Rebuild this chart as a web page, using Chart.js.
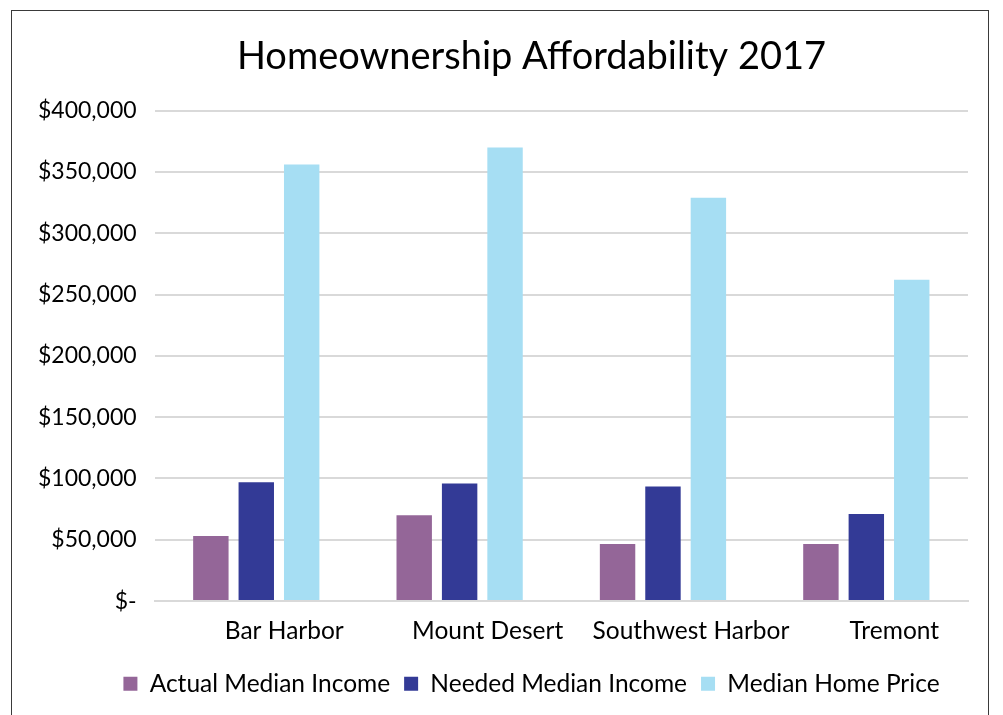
<!DOCTYPE html>
<html>
<head>
<meta charset="utf-8">
<script src="https://cdn.jsdelivr.net/npm/chart.js@4.4.1/dist/chart.umd.min.js"></script>
<style>
  html, body { margin: 0; padding: 0; background: #fff; overflow: hidden; }
  #wrap { position: absolute; left: 0; top: 0; width: 1003px; height: 715px; }
  #frame { position: absolute; left: 11px; top: 10px; width: 976px; height: 720px; border: 1px solid #3a3a3a; pointer-events: none; }
</style>
</head>
<body>
<div id="wrap"><canvas id="chart"></canvas></div>
<div id="frame"></div>
<script>
// Chart data
const towns = ['Bar Harbor', 'Mount Desert', 'Southwest Harbor', 'Tremont'];
const actualIncome = [53000, 70000, 46500, 46500];
const neededIncome = [97000, 96000, 93500, 71000];
const homePrice = [356000, 370000, 329000, 262000];
const seriesNames = ['Actual Median Income', 'Needed Median Income', 'Median Home Price'];
const seriesColors = ['#946698', '#333A96', '#A6DEF3'];

const FONT = 'Lato, "Noto Sans", sans-serif';

function moneyLabel(v) {
    if (v === 0) return '$-';
    return '$' + v.toLocaleString('en-US');
}

const ctx = document.getElementById('chart').getContext('2d');
new Chart(ctx, {
    type: 'bar',
    data: {
        labels: towns,
        datasets: [actualIncome, neededIncome, homePrice].map((values, i) => ({
            label: seriesNames[i],
            data: values,
            backgroundColor: seriesColors[i],
            borderWidth: 0,
            barPercentage: 0.78,
            categoryPercentage: 0.67,
            yAxisID: 'y'
        }))
    },
    options: {
        responsive: true,
        maintainAspectRatio: false,
        animation: false,
        // the title and legend sit a bit right of the canvas centre in the original,
        // so the right padding is pulled out and an empty right axis keeps the plot edge
        layout: { padding: { left: 20, right: -40, top: 34, bottom: 9 } },
        plugins: {
            title: {
                display: true,
                text: 'Homeownership Affordability 2017',
                color: '#000',
                font: { family: FONT, size: 38, weight: 'normal' },
                padding: { top: 0, bottom: 31 }
            },
            legend: {
                position: 'bottom',
                labels: {
                    color: '#000',
                    font: { family: FONT, size: 24.5 },
                    boxWidth: 14,
                    boxHeight: 14,
                    padding: 14
                }
            },
            tooltip: { enabled: false }
        },
        scales: {
            x: {
                grid: { display: false },
                border: { color: '#D9D9D9', width: 2 },
                ticks: {
                    color: '#000',
                    font: { family: FONT, size: 24.5 },
                    padding: 7,
                    labelOffset: 28,
                    maxRotation: 0
                },
                afterFit: scale => { scale.height += 5; }
            },
            y: {
                min: 0,
                max: 400000,
                border: { display: false },
                grid: { color: '#D9D9D9', lineWidth: 2, drawTicks: false },
                ticks: {
                    stepSize: 50000,
                    color: '#000',
                    font: { family: FONT, size: 23 },
                    padding: 18,
                    callback: moneyLabel
                }
            },
            spacer: {
                type: 'linear',
                position: 'right',
                grid: { display: false },
                border: { display: false },
                ticks: { display: false },
                afterFit: scale => { scale.width = 75; }
            }
        }
    }
});
</script>
</body>
</html>
